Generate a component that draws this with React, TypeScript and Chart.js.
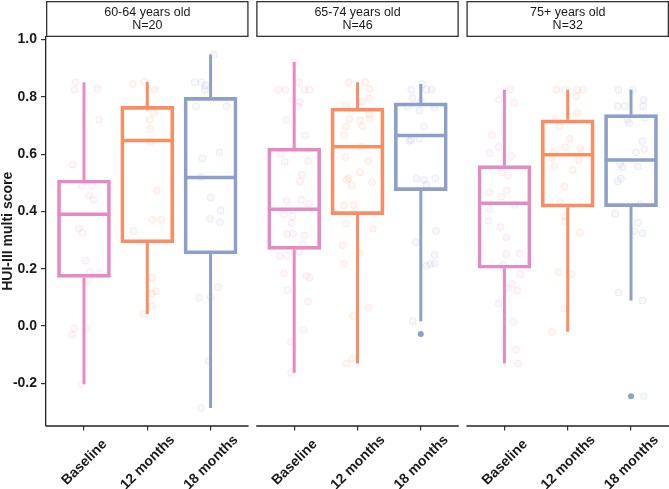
import React, { useEffect, useRef } from "react";
import { Chart, registerables } from "chart.js";

Chart.register(...registerables);

const FONT = "'Liberation Sans', Arial, Helvetica, sans-serif";

// ---------- data ----------
const categories = ["Baseline", "12 months", "18 months"];
const facetLabels = ["60-64 years old", "65-74 years old", "75+ years old"];
const facetN = [20, 46, 32];
const yTickValues = [-0.2, 0, 0.2, 0.4, 0.6, 0.8, 1.0];

// box statistics per category: [lower whisker, Q1, median, Q3, upper whisker]
const box6064 = [
  [-0.203, 0.17, 0.39, 0.51, 0.851],
  [0.042, 0.291, 0.648, 0.767, 0.852],
  [-0.286, 0.252, 0.519, 0.798, 0.948],
];
const box6574 = [
  [-0.163, 0.268, 0.408, 0.621, 0.922],
  [-0.131, 0.389, 0.626, 0.761, 0.851],
  [0.017, 0.473, 0.665, 0.779, 0.845],
];
const box75 = [
  [-0.131, 0.202, 0.429, 0.56, 0.825],
  [-0.02, 0.415, 0.598, 0.72, 0.825],
  [0.089, 0.417, 0.58, 0.738, 0.825],
];

// outliers per category
const outliers6064 = [[], [], []];
const outliers6574 = [[], [], [-0.028]];
const outliers75 = [[], [], [-0.245]];

// jittered observations: [horizontal jitter (category units), score]
const pts6064Base = [
  [-0.13, 0.851], [-0.15, 0.825], [0.21, 0.828], [0.24, 0.72], [-0.18, 0.564],
  [-0.03, 0.491], [0.13, 0.491], [0.08, 0.455], [0.15, 0.441], [-0.08, 0.341],
  [-0.02, 0.326], [0.03, 0.228], [0.1, 0.188], [0.24, 0.184], [0.04, 0.152],
  [-0.15, -0.008], [-0.19, -0.031], [0.04, -0.008], [-0.04, -0.203],
];
const pts6064M12 = [
  [-0.23, 0.845], [-0.05, 0.852], [0.12, 0.825], [0.0, 0.763], [0.1, 0.744],
  [0.04, 0.72], [0.05, 0.688], [0.05, 0.642], [0.15, 0.473], [0.08, 0.371],
  [0.22, 0.371], [-0.22, 0.331], [0.08, 0.169], [0.07, 0.114], [0.14, 0.121],
  [0.07, 0.071], [-0.06, 0.042],
];
const pts6064M18 = [
  [0.05, 0.948], [-0.25, 0.851], [-0.14, 0.851], [-0.09, 0.825], [-0.08, 0.84],
  [-0.23, 0.767], [0.25, 0.767], [0.14, 0.607], [-0.13, 0.585], [-0.15, 0.52],
  [0.0, 0.449], [0.16, 0.403], [-0.01, 0.374], [0.15, 0.362], [0.12, 0.136],
  [-0.18, 0.099], [0.0, 0.101], [-0.03, -0.121], [-0.15, -0.286],
];
const pts6574Base = [
  [0.0, 0.922], [-0.25, 0.825], [-0.14, 0.825], [0.08, 0.851], [0.16, 0.825],
  [0.24, 0.825], [-0.02, 0.79], [0.09, 0.781], [0.06, 0.767], [-0.12, 0.72],
  [0.17, 0.666], [-0.21, 0.6], [-0.15, 0.573], [0.22, 0.576], [0.12, 0.528],
  [0.09, 0.505], [-0.12, 0.437], [0.11, 0.441], [0.23, 0.427], [-0.16, 0.39],
  [-0.03, 0.382], [-0.04, 0.359], [-0.11, 0.321], [-0.02, 0.323], [0.16, 0.316],
  [0.14, 0.286], [-0.23, 0.244], [-0.12, 0.246], [0.08, 0.259], [-0.16, 0.184],
  [0.19, 0.175], [0.24, 0.169], [-0.11, 0.125], [0.22, 0.085], [0.15, -0.014],
  [-0.05, -0.055], [-0.05, -0.163],
];
const pts6574M12 = [
  [-0.14, 0.851], [0.12, 0.851], [0.19, 0.828], [0.18, 0.795], [0.07, 0.783],
  [-0.19, 0.769], [0.19, 0.74], [-0.13, 0.723], [0.04, 0.718], [0.19, 0.723],
  [-0.19, 0.697], [0.08, 0.697], [-0.21, 0.666], [0.06, 0.627], [-0.19, 0.59],
  [0.17, 0.576], [0.04, 0.537], [-0.17, 0.51], [-0.14, 0.516], [-0.09, 0.491],
  [0.23, 0.502], [-0.21, 0.421], [-0.06, 0.423], [-0.18, 0.358], [0.24, 0.34],
  [-0.23, 0.282], [0.03, 0.254], [-0.21, 0.218], [0.17, 0.064], [-0.07, 0.035],
  [-0.08, -0.113], [-0.17, -0.131],
];
const pts6574M18 = [
  [-0.15, 0.825], [0.02, 0.845], [0.09, 0.825], [0.17, 0.825], [-0.13, 0.796],
  [0.0, 0.784], [-0.02, 0.752], [-0.21, 0.767], [0.21, 0.763], [0.05, 0.697],
  [-0.18, 0.647], [-0.15, 0.65], [-0.02, 0.654], [-0.07, 0.514], [0.05, 0.51],
  [0.23, 0.516], [0.09, 0.493], [0.24, 0.332], [-0.08, 0.293], [0.22, 0.248],
  [0.09, 0.21], [0.22, 0.219], [0.15, 0.217], [-0.13, 0.017],
];
const pts75Base = [
  [0.09, 0.825], [-0.09, 0.79], [0.15, 0.779], [-0.2, 0.666], [-0.09, 0.625],
  [-0.23, 0.604], [0.11, 0.594], [-0.05, 0.536], [0.06, 0.526], [-0.24, 0.466],
  [0.04, 0.473], [-0.05, 0.452], [0.16, 0.423], [-0.24, 0.408], [-0.25, 0.368],
  [-0.06, 0.346], [0.03, 0.309], [0.03, 0.251], [0.24, 0.254], [-0.02, 0.213],
  [0.25, 0.181], [0.12, 0.147], [0.05, 0.132], [0.2, 0.124], [-0.09, 0.079],
  [0.14, 0.015], [0.18, -0.082], [0.22, -0.131],
];
const pts75M12 = [
  [-0.18, 0.825], [-0.04, 0.825], [0.15, 0.825], [0.24, 0.825], [0.13, 0.802],
  [0.15, 0.744], [-0.19, 0.72], [-0.13, 0.697], [0.03, 0.653], [-0.04, 0.624],
  [0.2, 0.62], [-0.22, 0.607], [-0.24, 0.586], [0.18, 0.58], [-0.21, 0.557],
  [0.08, 0.545], [-0.05, 0.487], [-0.12, 0.429], [-0.04, 0.382], [-0.04, 0.367],
  [0.19, 0.326], [-0.14, 0.188], [0.06, 0.181], [-0.05, 0.062], [-0.25, -0.02],
];
const pts75M18 = [
  [-0.2, 0.825], [0.03, 0.825], [0.2, 0.79], [-0.21, 0.767], [-0.1, 0.767],
  [0.19, 0.767], [-0.06, 0.72], [-0.03, 0.709], [0.22, 0.726], [0.18, 0.645],
  [0.21, 0.618], [0.08, 0.606], [-0.17, 0.566], [-0.13, 0.555], [0.11, 0.557],
  [-0.21, 0.505], [-0.16, 0.515], [0.14, 0.425], [-0.25, 0.392], [0.11, 0.361],
  [0.05, 0.332], [0.18, 0.324], [-0.2, 0.117], [0.18, 0.089], [0.2, -0.245],
];

const boxStats = [box6064, box6574, box75];
const outlierSets = [outliers6064, outliers6574, outliers75];
const jitterSets = [
  [pts6064Base, pts6064M12, pts6064M18],
  [pts6574Base, pts6574M12, pts6574M18],
  [pts75Base, pts75M12, pts75M18],
];

// ---------- styling / geometry ----------
const lineColors = ["#E78AC3", "#FC8D62", "#8DA0CB"];
const pointFills = ["rgba(231,138,195,0.07)", "rgba(252,141,98,0.07)", "rgba(141,160,203,0.07)"];
const pointBorders = ["rgba(231,138,195,0.15)", "rgba(252,141,98,0.15)", "rgba(141,160,203,0.16)"];

const PANEL_W = 3.2; // 3 categories + 0.6 expansion each side
const GAP = 0.121;
const X_MAX = 3 * PANEL_W + 2 * GAP;
const panelStart = (p: number) => p * (PANEL_W + GAP);
const pos = (p: number, c: number) => panelStart(p) + 0.6 + c;

const W = 669;
const H = 489;
const PLOT_LEFT = 46;
const PLOT_TOP = 37;
const PLOT_BOTTOM = 425.5;
const UNIT_PX = (W - PLOT_LEFT) / X_MAX;
const BAR_PX = Math.round(0.8 * UNIT_PX) + 2;
const MED_HALF = 0.4 + 1 / UNIT_PX;

const facetPlugin = {
  id: "facetDecor",
  afterDraw(chart: any) {
    const ctx = chart.ctx;
    const xs = chart.scales.x;
    const area = chart.chartArea;
    ctx.save();
    for (let p = 0; p < facetLabels.length; p++) {
      const x0 = xs.getPixelForValue(panelStart(p));
      const x1 = xs.getPixelForValue(panelStart(p) + PANEL_W);
      // strip
      ctx.fillStyle = "#ffffff";
      ctx.fillRect(x0, 1, x1 - x0, 35);
      ctx.strokeStyle = "#333333";
      ctx.lineWidth = 1.3;
      ctx.strokeRect(x0 + 0.65, 1.65, x1 - x0 - 1.3, 34.7);
      ctx.fillStyle = "#1a1a1a";
      ctx.font = `12.5px ${FONT}`;
      ctx.textAlign = "center";
      ctx.textBaseline = "middle";
      const cx = (x0 + x1) / 2;
      ctx.fillText(facetLabels[p], cx, 12.7);
      ctx.fillText(`N=${facetN[p]}`, cx, 25.2);
      // x axis line segment
      ctx.strokeStyle = "#222222";
      ctx.lineWidth = 1.3;
      ctx.beginPath();
      ctx.moveTo(x0, area.bottom + 0.5);
      ctx.lineTo(x1, area.bottom + 0.5);
      ctx.stroke();
      // category labels
      ctx.fillStyle = "#1a1a1a";
      ctx.font = `bold 14px ${FONT}`;
      for (let c = 0; c < categories.length; c++) {
        const px = xs.getPixelForValue(pos(p, c));
        ctx.save();
        ctx.translate(px + 0.5, 462.5);
        ctx.rotate(-Math.PI / 4);
        ctx.textAlign = "center";
        ctx.textBaseline = "middle";
        ctx.fillText(categories[c], 0, 0);
        ctx.restore();
      }
    }
    ctx.restore();
  },
};

export default function App() {
  const canvasRef = useRef<HTMLCanvasElement | null>(null);

  useEffect(() => {
    const canvas = canvasRef.current;
    if (!canvas) return;

    const datasets: any[] = [];

    for (let c = 0; c < categories.length; c++) {
      // boxes (Q1..Q3)
      datasets.push({
        type: "bar",
        data: boxStats.map((bs, p) => ({ x: pos(p, c), y: [bs[c][1], bs[c][3]] })),
        backgroundColor: "rgba(0,0,0,0)",
        borderColor: lineColors[c],
        borderWidth: 3,
        borderSkipped: false,
        barThickness: BAR_PX,
        grouped: false,
        order: 3,
      });
      // whiskers
      const whisk: any[] = [];
      boxStats.forEach((bs, p) => {
        const x = pos(p, c);
        whisk.push({ x, y: bs[c][3] }, { x, y: bs[c][4] }, { x, y: null });
        whisk.push({ x, y: bs[c][0] }, { x, y: bs[c][1] }, { x, y: null });
      });
      datasets.push({
        type: "line",
        data: whisk,
        borderColor: lineColors[c],
        borderWidth: 3,
        borderCapStyle: "butt",
        pointRadius: 0,
        spanGaps: false,
        tension: 0,
        fill: false,
        order: 3,
      });
      // medians
      const med: any[] = [];
      boxStats.forEach((bs, p) => {
        const x = pos(p, c);
        med.push({ x: x - MED_HALF, y: bs[c][2] }, { x: x + MED_HALF, y: bs[c][2] }, { x, y: null });
      });
      datasets.push({
        type: "line",
        data: med,
        borderColor: lineColors[c],
        borderWidth: 3.5,
        borderCapStyle: "butt",
        pointRadius: 0,
        spanGaps: false,
        tension: 0,
        fill: false,
        order: 3,
      });
      // outliers
      const outs: any[] = [];
      outlierSets.forEach((os, p) => os[c].forEach((v: number) => outs.push({ x: pos(p, c), y: v })));
      datasets.push({
        type: "scatter",
        data: outs,
        backgroundColor: lineColors[c],
        borderColor: lineColors[c],
        borderWidth: 0,
        pointRadius: 3,
        order: 2,
      });
      // jittered observations
      const jit: any[] = [];
      jitterSets.forEach((js, p) => js[c].forEach((pt: number[]) => jit.push({ x: pos(p, c) + pt[0], y: pt[1] })));
      datasets.push({
        type: "scatter",
        data: jit,
        backgroundColor: pointFills[c],
        borderColor: pointBorders[c],
        borderWidth: 1,
        pointRadius: 3.5,
        order: 1,
      });
    }

    const chart = new Chart(canvas, {
      type: "scatter",
      data: { datasets },
      options: {
        responsive: false,
        maintainAspectRatio: false,
        animation: false,
        events: [],
        layout: { autoPadding: false, padding: { top: PLOT_TOP, left: 0, right: 0, bottom: 0 } },
        plugins: {
          legend: { display: false },
          tooltip: { enabled: false },
          title: { display: false },
        },
        scales: {
          x: {
            type: "linear",
            offset: false,
            min: 0,
            max: X_MAX,
            afterBuildTicks: (s: any) => {
              const t: any[] = [];
              for (let p = 0; p < 3; p++) for (let c = 0; c < 3; c++) t.push({ value: pos(p, c) });
              s.ticks = t;
            },
            afterFit: (s: any) => {
              s.height = H - PLOT_BOTTOM;
            },
            ticks: { display: false },
            grid: { offset: false, drawOnChartArea: false, drawTicks: true, tickLength: 5, color: "#333333", lineWidth: 1.2 },
            border: { display: false },
          },
          y: {
            type: "linear",
            min: -0.347,
            max: 1.009,
            afterBuildTicks: (s: any) => {
              s.ticks = yTickValues.map((v) => ({ value: v }));
            },
            afterFit: (s: any) => {
              s.width = PLOT_LEFT;
            },
            ticks: {
              callback: (v: any) => Number(v).toFixed(1),
              font: { family: FONT, size: 14, weight: "bold" },
              color: "#1a1a1a",
              padding: 4,
            },
            grid: { drawOnChartArea: false, drawTicks: true, tickLength: 5, color: "#333333", lineWidth: 1.2 },
            border: { display: true, color: "#222222", width: 1.3 },
            title: {
              display: true,
              text: "HUI-III multi score",
              font: { family: FONT, size: 14, weight: "bold" },
              color: "#1a1a1a",
              padding: 0,
            },
          },
        },
      },
      plugins: [facetPlugin],
    } as any);

    return () => chart.destroy();
  }, []);

  return (
    <div style={{ position: "absolute", left: 0, top: 0, width: W, height: H, background: "#fff" }}>
      <canvas ref={canvasRef} width={W} height={H} style={{ display: "block" }} />
    </div>
  );
}
